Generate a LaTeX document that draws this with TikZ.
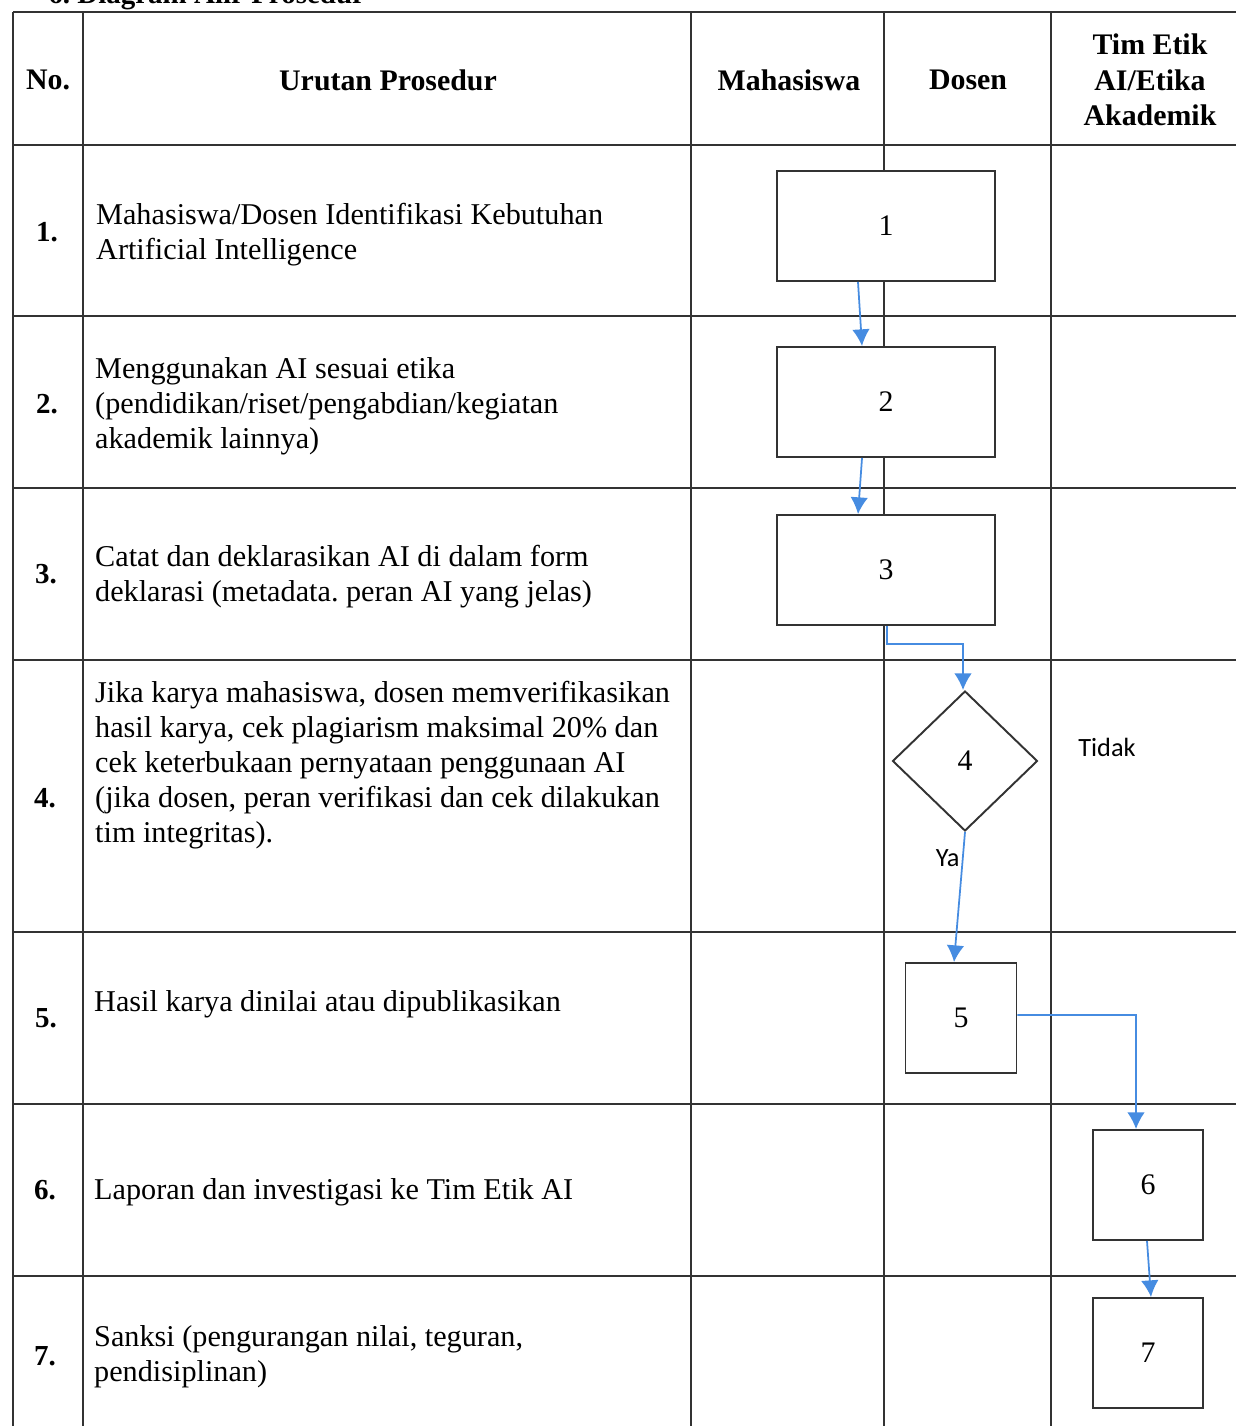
\documentclass[tikz,border=0pt]{standalone}
\usepackage{fontspec}
\setmainfont{Liberation Serif}
\newfontfamily\labelfont{Carlito}
\usetikzlibrary{shapes.geometric,arrows.meta}
\frenchspacing

\begin{document}
\begin{tikzpicture}[x=0.02cm,y=-0.02cm,
  grid/.style={line width=1.1pt,black!80},
  proc/.style={draw=black!80,line width=1.1pt,fill=white,inner sep=0pt,font=\fontsize{17}{20}\selectfont},
  dec/.style={diamond,draw=black!80,line width=1.1pt,fill=white,inner sep=0pt,minimum width=2.9cm,minimum height=2.8cm,font=\fontsize{17}{20}\selectfont},
  flow/.style={draw={rgb,255:red,70;green,140;blue,225},line width=1pt,-{Latex[length=9.5pt,width=10pt]}},
  head/.style={font=\bfseries\fontsize{17}{20.2}\selectfont,align=center},
  num/.style={font=\bfseries\fontsize{16.5}{20}\selectfont},
  step text/.style={anchor=west,align=left,font=\fontsize{17.2}{19.9}\selectfont},
  yesno/.style={font=\labelfont\fontsize{15}{18}\selectfont}]
\useasboundingbox (0,0) rectangle (1236,1426);

% title (cut by the page edge)
\node[anchor=base west,inner sep=0pt,font=\bfseries\fontsize{16.5}{20}\selectfont] (title) at (48,4) {6. Diagram Alir Prosedur};

% table
\foreach \y in {12,145,316,488,660,932,1104,1276}
  \draw[grid] (13,\y) -- (1240,\y);
\foreach \x in {13,83,691,884,1051}
  \draw[grid] (\x,12) -- (\x,1430);

% header
\node[head] (hno) at (48,80) {No.};
\node[head] (hurut) at (388,80) {Urutan Prosedur};
\node[head] (hmhs) at (789,80) {Mahasiswa};
\node[head] (hdos) at (968,80) {Dosen};
\node[head] (htim) at (1150,80) {Tim Etik\\AI/Etika\\Akademik};

% numbers
\node[num] (n1) at (47,232) {1.};
\node[num] (n2) at (47,404) {2.};
\node[num] (n3) at (46,574) {3.};
\node[num] (n4) at (45,798) {4.};
\node[num] (n5) at (46,1018) {5.};
\node[num] (n6) at (45,1190) {6.};
\node[num] (n7) at (45,1356) {7.};

% steps
\node[step text] (t1) at (90,235) {Mahasiswa/Dosen Identifikasi Kebutuhan\\Artificial Intelligence};
\node[step text] (t2) at (89,406) {Menggunakan AI sesuai etika\\(pendidikan/riset/pengabdian/kegiatan\\akademik lainnya)};
\node[step text] (t3) at (89,577) {Catat dan deklarasikan AI di dalam form\\deklarasi (metadata. peran AI yang jelas)};
\node[step text] (t4) at (89,765) {Jika karya mahasiswa, dosen memverifikasikan\\hasil karya, cek plagiarism maksimal 20\% dan\\cek keterbukaan pernyataan penggunaan AI\\(jika dosen, peran verifikasi dan cek dilakukan\\tim integritas).};
\node[step text] (t5) at (88,1004) {Hasil karya dinilai atau dipublikasikan};
\node[step text] (t6) at (88,1192) {Laporan dan investigasi ke Tim Etik AI};
\node[step text] (t7) at (88,1357) {Sanksi (pengurangan nilai, teguran,\\pendisiplinan)};

% flow
\node[proc,minimum width=4.36cm,minimum height=2.2cm] (b1) at (886,226) {1};
\node[proc,minimum width=4.36cm,minimum height=2.2cm] (b2) at (886,402) {2};
\node[proc,minimum width=4.36cm,minimum height=2.2cm] (b3) at (886,570) {3};
\node[dec] (d4) at (965,761) {4};
\node[proc,minimum width=2.22cm,minimum height=2.2cm] (b5) at (961,1018) {5};
\node[proc,minimum width=2.2cm,minimum height=2.2cm] (b6) at (1148,1185) {6};
\node[proc,minimum width=2.2cm,minimum height=2.2cm] (b7) at (1148,1353) {7};

\coordinate (c3) at (887,644);
\coordinate (c5) at (1136,1015);

\draw[flow] ([xshift=-0.56cm]b1.south) -- ([xshift=-0.48cm]b2.north);
\draw[flow] ([xshift=-0.48cm]b2.south) -- ([xshift=-0.56cm]b3.north);
\draw[flow] ([xshift=0.02cm]b3.south) -- (c3) -| ([xshift=-0.04cm]d4.north);
\draw[flow] (d4.south) -- node[yesno,pos=0.2,left=-2pt] (ya) {Ya} ([xshift=-0.14cm]b5.north);
\draw[flow] ([yshift=0.06cm]b5.east) -- (c5) -- ([xshift=-0.24cm]b6.north);
\draw[flow] ([xshift=-0.02cm]b6.south) -- ([xshift=0.06cm]b7.north);

\node[yesno] (tidak) at (1107,747) {Tidak};
\end{tikzpicture}
\end{document}
